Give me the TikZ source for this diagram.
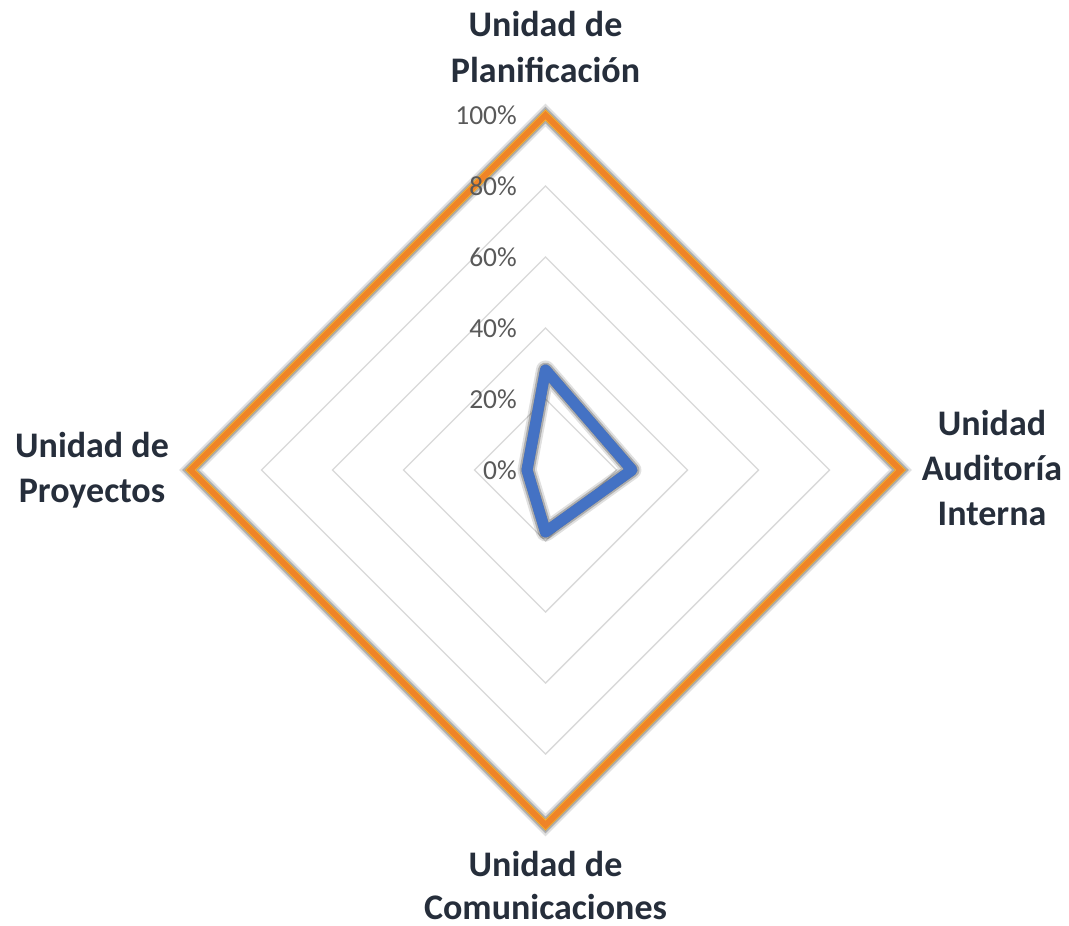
\documentclass[tikz,border=0pt]{standalone}
\usepackage{fontspec}
\setmainfont{Carlito}
\usetikzlibrary{calc}
\definecolor{gridc}{HTML}{D9D9D9}
\definecolor{orangec}{HTML}{EF8428}
\definecolor{goldc}{HTML}{F7B030}
\definecolor{bluec}{HTML}{4472C4}
\definecolor{labc}{HTML}{262E3B}
\definecolor{tickc}{HTML}{595959}
\tikzset{
  gridline/.style={draw=gridc, line width=1.4pt},
  catlab/.style={anchor=base, inner sep=0pt, text=labc, font=\bfseries\fontsize{36}{44}\selectfont},
  ticklab/.style={anchor=east, inner sep=0pt, text=tickc, font=\fontsize{27.5}{32}\selectfont},
  shadowA/.style={draw=black, opacity=0.12, line join=miter},
  shadowB/.style={draw=black, opacity=0.22, line join=miter},
  shadowC/.style={draw=black, opacity=0.30, line join=miter},
}
\begin{document}
\begin{tikzpicture}[x=1pt,y=-1pt]
\useasboundingbox[fill=white] (0,0) rectangle (1069,926);
\coordinate (C) at (545.5,470);
% grid
\foreach \k in {1,2,3,4}{
  \draw[gridline] ($(C)+(0,-71*\k)$) -- ($(C)+(71*\k,0)$) -- ($(C)+(0,71*\k)$) -- ($(C)+(-71*\k,0)$) -- cycle;
}
% outer (100%) series
\coordinate (OT) at (545.5,115);
\coordinate (OR) at (900.5,470);
\coordinate (OB) at (545.5,825);
\coordinate (OL) at (190.5,470);
\begin{scope}[shift={(2,3)}]
  \draw[shadowA, line width=16pt] (OT) -- (OR) -- (OB) -- (OL) -- cycle;
  \draw[shadowB, line width=12pt] (OT) -- (OR) -- (OB) -- (OL) -- cycle;
  \draw[shadowC, line width=8pt] (OT) -- (OR) -- (OB) -- (OL) -- cycle;
\end{scope}
\draw[draw=goldc, line width=8pt, line join=miter] (OT) -- (OR) -- (OB) -- (OL) -- cycle;
\draw[draw=orangec, line width=6pt, line join=miter] (OT) -- (OR) -- (OB) -- (OL) -- cycle;
% blue series
\coordinate (BT) at (545.5,370);
\coordinate (BR) at (632,470);
\coordinate (BB) at (545.5,532);
\coordinate (BL) at (527,470);
\begin{scope}[shift={(2,3)}]
  \draw[shadowA, line width=19pt, line join=round] (BT) -- (BR) -- (BB) -- (BL) -- cycle;
  \draw[shadowB, line width=15pt, line join=round] (BT) -- (BR) -- (BB) -- (BL) -- cycle;
  \draw[shadowC, line width=11pt, line join=round] (BT) -- (BR) -- (BB) -- (BL) -- cycle;
\end{scope}
\draw[draw=bluec, line width=11pt, line join=round] (BT) -- (BR) -- (BB) -- (BL) -- cycle;
% tick labels
\node[ticklab] (t0) at (517,470) {0\%};
\node[ticklab] (t20) at (517,399) {20\%};
\node[ticklab] (t40) at (517,328) {40\%};
\node[ticklab] (t60) at (517,257) {60\%};
\node[ticklab] (t80) at (517,186) {80\%};
\node[ticklab] (t100) at (517,115) {100\%};
% category labels
\node[catlab] (top1) at (545.5,36) {Unidad de};
\node[catlab] (top2) at (545.5,82) {Planificación};
\node[catlab] (r1) at (992,435) {Unidad};
\node[catlab] (r2) at (992,480) {Auditoría};
\node[catlab] (r3) at (992,525) {Interna};
\node[catlab] (l1) at (92,457) {Unidad de};
\node[catlab] (l2) at (92,502) {Proyectos};
\node[catlab] (b1) at (545.5,876) {Unidad de};
\node[catlab] (b2) at (545.5,919) {Comunicaciones};
\end{tikzpicture}
\end{document}
